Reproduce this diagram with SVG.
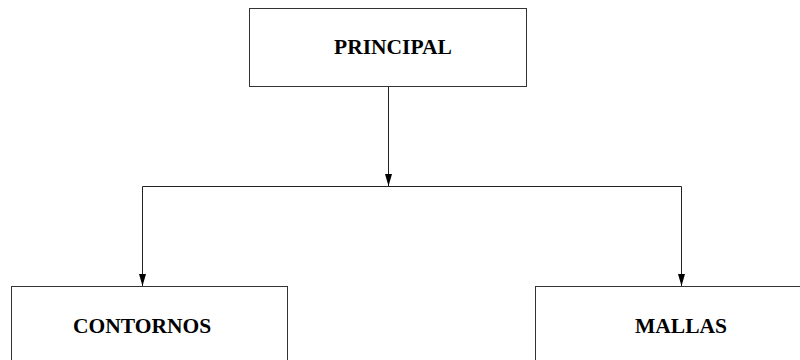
<svg xmlns="http://www.w3.org/2000/svg" width="800" height="360" viewBox="0 0 800 360">
  <style>
    .box { fill: #ffffff; stroke: #333333; stroke-width: 1; }
    .label { font-family: "Liberation Serif", "Times New Roman", serif; font-weight: bold; font-size: 21.5px; fill: #000000; }
    .wire { fill: none; stroke: #222222; stroke-width: 1; }
  </style>
  <defs>
    <marker id="arrow" viewBox="0 0 12 8" refX="12" refY="4" markerWidth="12" markerHeight="8" markerUnits="userSpaceOnUse" orient="auto">
      <path d="M0,0.5 L12,4 L0,7.5 Z" fill="#000000"/>
    </marker>
  </defs>
  <rect width="800" height="360" fill="#ffffff"/>

  <g id="principal">
    <rect class="box" x="249.5" y="8.5" width="277" height="78"/>
    <text class="label" x="334" y="54">PRINCIPAL</text>
  </g>

  <g id="contornos">
    <rect class="box" x="11.5" y="286.5" width="276" height="90"/>
    <text class="label" x="73" y="333">CONTORNOS</text>
  </g>

  <g id="mallas">
    <rect class="box" x="535.5" y="286.5" width="280" height="90"/>
    <text class="label" x="635" y="333">MALLAS</text>
  </g>

  <g id="connectors">
    <path class="wire" d="M388.5,87 L388.5,186" marker-end="url(#arrow)"/>
    <path class="wire" d="M142.5,186.5 L681.5,186.5"/>
    <path class="wire" d="M142.5,186.5 L142.5,286" marker-end="url(#arrow)"/>
    <path class="wire" d="M681.5,186.5 L681.5,286" marker-end="url(#arrow)"/>
  </g>
</svg>
